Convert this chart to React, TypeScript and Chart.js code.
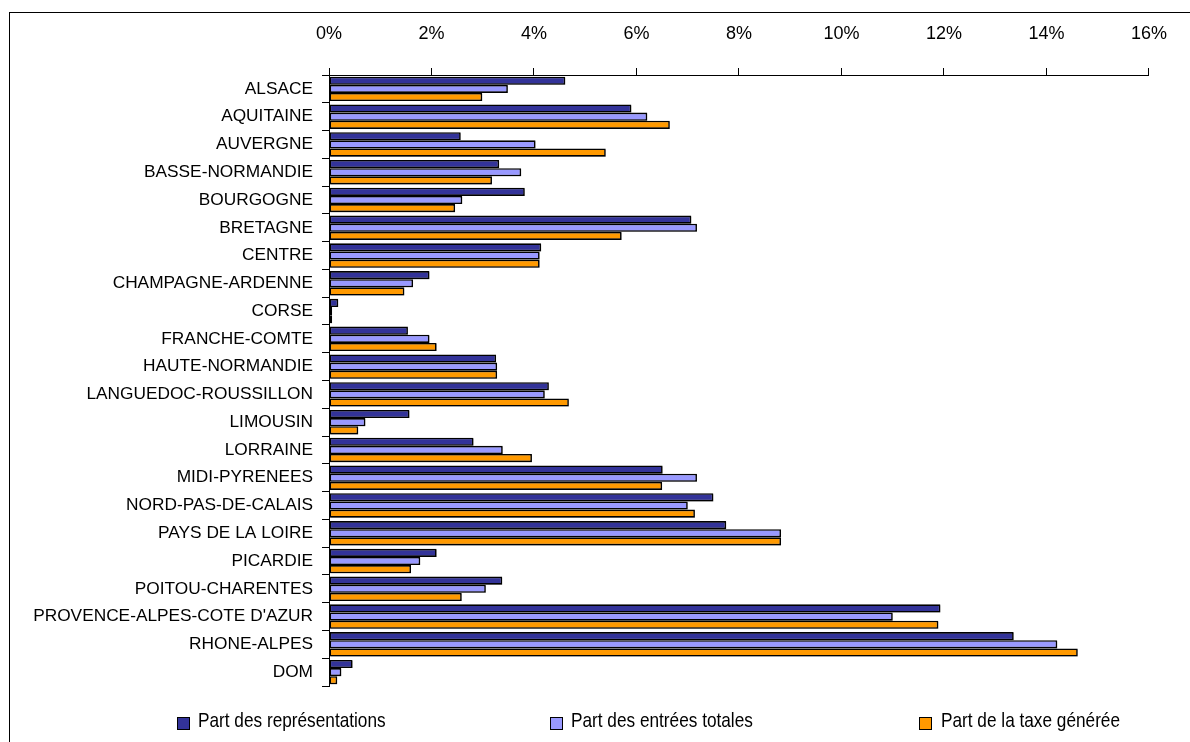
import React, { useEffect, useRef } from "react";
import { Chart, registerables } from "chart.js";

Chart.register(...registerables);

const categories = [
  "ALSACE",
  "AQUITAINE",
  "AUVERGNE",
  "BASSE-NORMANDIE",
  "BOURGOGNE",
  "BRETAGNE",
  "CENTRE",
  "CHAMPAGNE-ARDENNE",
  "CORSE",
  "FRANCHE-COMTE",
  "HAUTE-NORMANDIE",
  "LANGUEDOC-ROUSSILLON",
  "LIMOUSIN",
  "LORRAINE",
  "MIDI-PYRENEES",
  "NORD-PAS-DE-CALAIS",
  "PAYS DE LA LOIRE",
  "PICARDIE",
  "POITOU-CHARENTES",
  "PROVENCE-ALPES-COTE D'AZUR",
  "RHONE-ALPES",
  "DOM",
];

const representations = [
  4.61, 5.9, 2.57, 3.32, 3.82, 7.07, 4.14, 1.96, 0.18, 1.54, 3.26, 4.29, 1.57,
  2.82, 6.51, 7.5, 7.75, 2.1, 3.38, 11.93, 13.36, 0.46,
];
const entreesTotales = [
  3.49, 6.21, 4.03, 3.75, 2.6, 7.18, 4.11, 1.64, 0.06, 1.96, 3.28, 4.21, 0.71,
  3.39, 7.18, 7.0, 8.82, 1.78, 3.06, 11.0, 14.21, 0.24,
];
const taxeGeneree = [
  2.99, 6.65, 5.4, 3.18, 2.46, 5.71, 4.11, 1.47, 0.06, 2.1, 3.28, 4.68, 0.57,
  3.96, 6.5, 7.14, 8.82, 1.6, 2.59, 11.89, 14.61, 0.16,
];

const xTickValues = [0, 2, 4, 6, 8, 10, 12, 14, 16];

const seriesLabels = [
  "Part des représentations",
  "Part des entrées totales",
  "Part de la taxe générée",
];
const seriesColors = ["#333399", "#9999FF", "#FF9900"];

const FONT = "'Liberation Sans', Arial, sans-serif";

const shadowPlugin = {
  id: "barShadow",
  beforeDatasetsDraw(chart: any) {
    const ctx = chart.ctx;
    ctx.save();
    ctx.shadowColor = "rgba(0,0,0,0.3)";
    ctx.shadowOffsetX = 1;
    ctx.shadowOffsetY = 1;
    ctx.shadowBlur = 0;
  },
  afterDatasetsDraw(chart: any) {
    chart.ctx.restore();
  },
};

export default function App() {
  const canvasRef = useRef<HTMLCanvasElement | null>(null);

  useEffect(() => {
    if (!canvasRef.current) return;
    const values = [representations, entreesTotales, taxeGeneree];
    const chart = new Chart(canvasRef.current, {
      type: "bar",
      data: {
        labels: categories,
        datasets: values.map((v, i) => ({
          label: seriesLabels[i],
          data: v,
          backgroundColor: seriesColors[i],
          borderColor: "#000000",
          borderWidth: 1.6,
          borderSkipped: false,
          barPercentage: 1,
          categoryPercentage: 0.88,
        })),
      },
      plugins: [shadowPlugin],
      options: {
        indexAxis: "y",
        animation: false,
        responsive: false,
        maintainAspectRatio: false,
        devicePixelRatio: 1,
        layout: { padding: { left: 0, top: 0, right: 32, bottom: 56 } },
        plugins: {
          legend: { display: false },
          tooltip: { enabled: false },
        },
        scales: {
          x: {
            position: "top",
            min: xTickValues[0],
            max: xTickValues[xTickValues.length - 1],
            afterFit: (s: any) => {
              s.height = 75;
            },
            afterBuildTicks: (s: any) => {
              s.ticks = xTickValues.map((v) => ({ value: v }));
            },
            ticks: {
              callback: (v: any) => v + "%",
              color: "#000",
              font: { family: FONT, size: 18 },
              padding: 23,
            },
            grid: {
              drawOnChartArea: false,
              drawTicks: true,
              tickLength: 7,
              color: "#000",
            },
            border: { color: "#000", width: 1 },
          },
          y: {
            afterFit: (s: any) => {
              s.width = 329;
            },
            ticks: {
              color: "#000",
              font: { family: FONT, size: 17.3 },
              padding: 9,
              autoSkip: false,
            },
            grid: {
              offset: true,
              drawOnChartArea: false,
              drawTicks: true,
              tickLength: 7,
              color: "#000",
            },
            border: { color: "#000", width: 1 },
          },
        },
      },
    });
    return () => chart.destroy();
  }, []);

  const legendPos = [
    { box: 177, text: 198 },
    { box: 550, text: 571 },
    { box: 919, text: 941 },
  ];

  return (
    <div
      style={{
        position: "fixed",
        left: 0,
        top: 0,
        width: 1190,
        height: 742,
        overflow: "hidden",
        background: "#fff",
      }}
    >
      <div
        style={{
          position: "absolute",
          left: 9,
          top: 12,
          width: 1300,
          height: 900,
          border: "1px solid #000",
          boxSizing: "border-box",
        }}
      />
      <canvas
        ref={canvasRef}
        width={1190}
        height={742}
        style={{ position: "absolute", left: 0, top: 0, width: 1190, height: 742 }}
      />
      {seriesLabels.map((l, i) => (
        <React.Fragment key={l}>
          <div
            style={{
              position: "absolute",
              left: legendPos[i].box,
              top: 717,
              width: 13,
              height: 13,
              background: seriesColors[i],
              border: "1.5px solid #000",
              boxSizing: "border-box",
            }}
          />
          <div
            style={{
              position: "absolute",
              left: legendPos[i].text,
              top: 707,
              fontFamily: FONT,
              fontSize: 21,
              lineHeight: "26px",
              color: "#000",
              whiteSpace: "nowrap",
              transform: "scaleX(0.82)",
              transformOrigin: "left center",
            }}
          >
            {l}
          </div>
        </React.Fragment>
      ))}
    </div>
  );
}
